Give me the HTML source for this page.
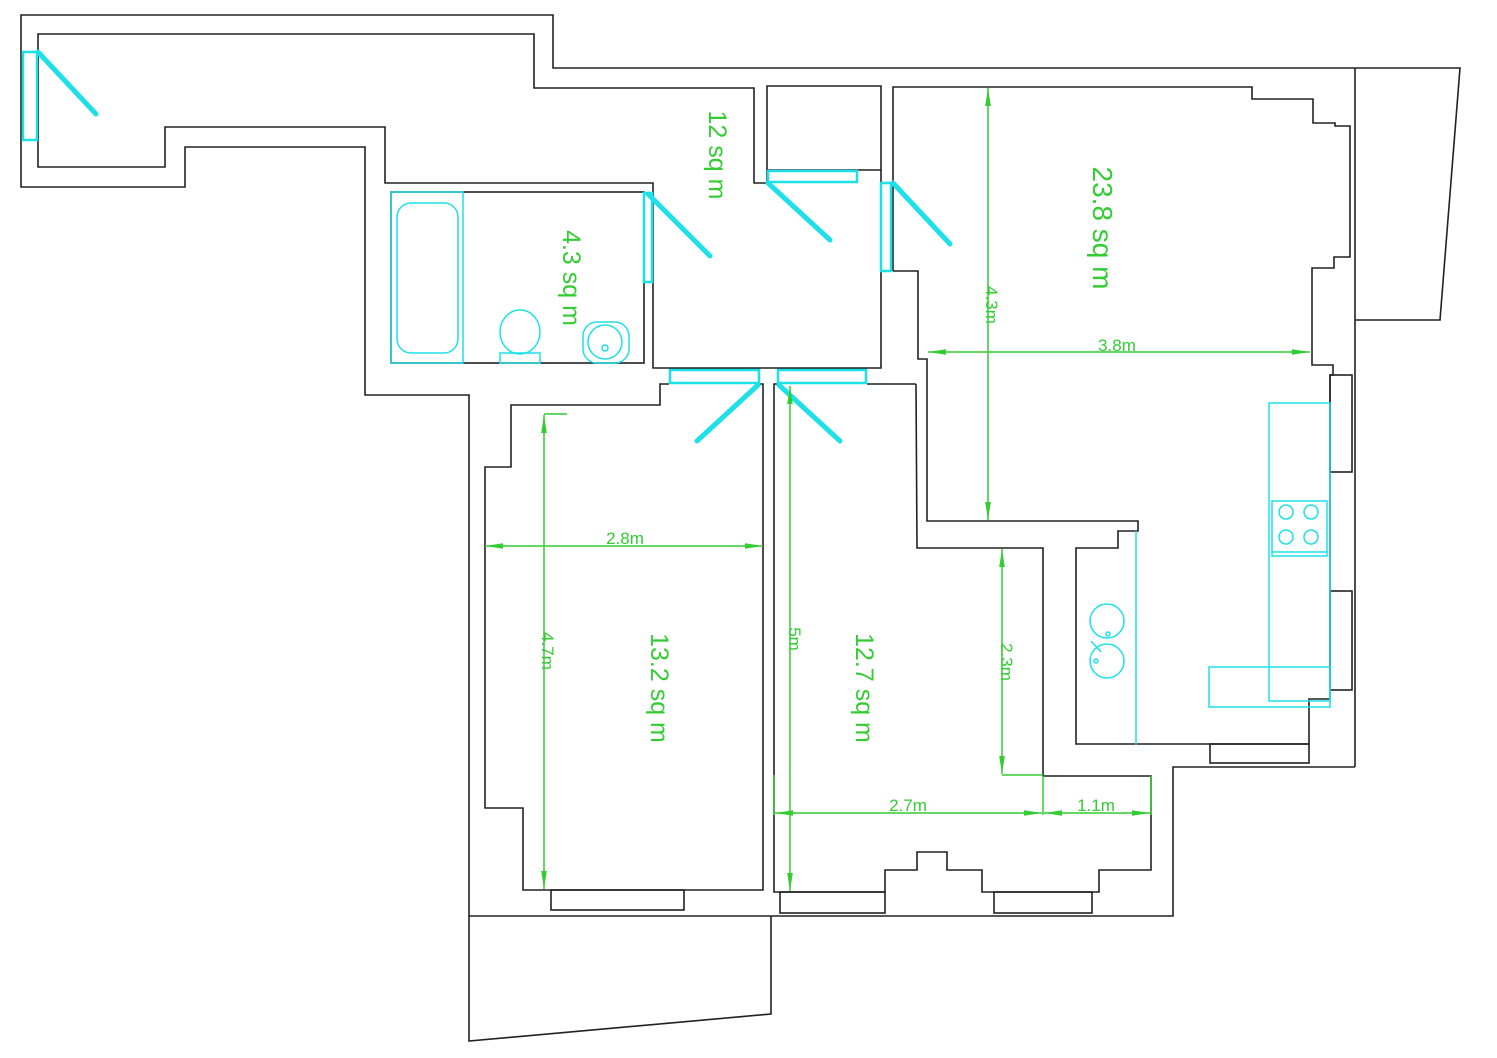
<!DOCTYPE html>
<html><head><meta charset="utf-8"><style>html,body{margin:0;padding:0;background:#fff}svg{display:block}</style></head><body>
<svg width="1497" height="1058" viewBox="0 0 1497 1058" xmlns="http://www.w3.org/2000/svg" font-family="Liberation Sans, sans-serif">
<defs>
<marker id="a" viewBox="0 0 10 10" refX="10" refY="5" markerWidth="18" markerHeight="7" markerUnits="userSpaceOnUse" preserveAspectRatio="none" orient="auto-start-reverse"><path d="M0,1 L10,5 L0,9 z" fill="#3c3"/></marker>
</defs>
<g fill="none" stroke="#222" stroke-width="1.6">
<polyline points="1355,68 553,68 553,15 21,15 21,187 185,187 185,147 365,147 365,395 469,395 469,916 1173,916 1173,767 1355,767"/>
<polyline points="38,140 38,34 534,34 534,88 754,88 754,183 767,183"/>
<polyline points="38,52 38,167 165,167 165,127 385,127 385,183 653,183 653,368 668,368"/>
<polyline points="1355,68 1460,68 1440,320 1355,320"/>
<line x1="1355" y1="68" x2="1355" y2="767"/>
<rect x="391" y="192" width="253" height="171"/>
<polyline points="767,183 767,86 881,86 881,170 858,170"/>
<line x1="767" y1="170" x2="858" y2="170"/>
<polyline points="881,170 881,368 867,368"/>
<line x1="760" y1="368" x2="777" y2="368"/>
<line x1="668" y1="368" x2="760" y2="368"/>
<line x1="777" y1="368" x2="867" y2="368"/>
<polyline points="893,271 893,87 1252,87 1252,99 1313,99 1313,123 1335,123 1335,126 1350,126 1350,257 1334,257 1334,268 1312,268 1312,365 1333,365 1333,375 1330,375 1330,699 1309,699 1309,744 1076,744 1076,548 1118,548 1118,531 1138,531 1138,521 927,521 927,359 918,359 918,271 893,271"/>
<rect x="1330" y="375" width="22" height="97"/>
<rect x="1330" y="591" width="22" height="99"/>
<rect x="1210" y="744" width="99" height="19"/>
<polyline points="916,384 917,548 1043,548 1043,776 1151,776 1151,870 1099,870 1099,892 982,892 982,870 947,870 947,852 917,852 917,870 885,870 885,892 774,892 774,384 777,384"/>
<line x1="867" y1="384" x2="916" y2="384"/>
<rect x="780" y="892" width="105" height="21"/>
<rect x="994" y="892" width="98" height="21"/>
<polyline points="669,384 660,384 660,405 511,405 511,467 485,467 485,808 523,808 523,890 763,890 763,384 760,384"/>
<rect x="551" y="890" width="133" height="20"/>
<polyline points="469,916 469,1041 771,1014 771,916"/>
<line x1="669" y1="369" x2="760" y2="369"/>
<line x1="777" y1="369" x2="867" y2="369"/>
</g>
<g fill="none" stroke="#1de0e8" stroke-width="1.5">
<rect x="23" y="52" width="14" height="88" stroke-width="2.5"/>
<rect x="644" y="193" width="8" height="89" stroke-width="2.5"/>
<rect x="768" y="171" width="89" height="11" stroke-width="2.5"/>
<rect x="881" y="183" width="10" height="88" stroke-width="2.5"/>
<rect x="670" y="370" width="89" height="13" stroke-width="2.5"/>
<rect x="778" y="370" width="88" height="13" stroke-width="2.5"/>
<rect x="391" y="192" width="72" height="171"/>
<rect x="397" y="203" width="61" height="150" rx="14"/>
<ellipse cx="520" cy="332" rx="20" ry="22"/>
<rect x="500" y="353" width="40" height="10"/>
<rect x="583" y="322" width="46" height="41" rx="14"/>
<circle cx="605" cy="342" r="17"/>
<circle cx="605" cy="348" r="3"/>
<rect x="1269" y="403" width="61" height="298"/>
<rect x="1272" y="501" width="55" height="55"/>
<line x1="1272" y1="552" x2="1327" y2="552"/>
<circle cx="1286" cy="512" r="7"/><circle cx="1311" cy="512" r="7"/>
<circle cx="1286" cy="537" r="7"/><circle cx="1311" cy="537" r="7"/>
<rect x="1209" y="667" width="121" height="40"/>
<line x1="1136" y1="531" x2="1136" y2="745"/>
<circle cx="1107" cy="621" r="17"/><circle cx="1107" cy="661" r="17"/>
<circle cx="1108" cy="634" r="2"/><circle cx="1096" cy="661" r="2"/>
<line x1="1091" y1="641" x2="1101" y2="652"/>
</g>
<g stroke="#1de0e8" stroke-width="5" stroke-linecap="round">
<line x1="38" y1="52" x2="96" y2="114"/>
<line x1="648" y1="194" x2="710" y2="256"/>
<line x1="768" y1="183" x2="830" y2="240"/>
<line x1="893" y1="183" x2="950" y2="244"/>
<line x1="758" y1="385" x2="697" y2="441"/>
<line x1="779" y1="385" x2="840" y2="441"/>
</g>
<g stroke="#3c3" stroke-width="1.5" fill="none">
<line x1="988" y1="88" x2="988" y2="520" marker-start="url(#a)" marker-end="url(#a)"/>
<line x1="928" y1="352" x2="1310" y2="352" marker-start="url(#a)" marker-end="url(#a)"/>
<line x1="485" y1="546" x2="763" y2="546" marker-start="url(#a)" marker-end="url(#a)"/>
<line x1="544" y1="415" x2="544" y2="889" marker-start="url(#a)" marker-end="url(#a)"/>
<line x1="544" y1="414" x2="567" y2="414"/>
<line x1="790" y1="386" x2="790" y2="891" marker-start="url(#a)" marker-end="url(#a)"/>
<line x1="1002" y1="549" x2="1002" y2="774" marker-start="url(#a)" marker-end="url(#a)"/>
<line x1="1002" y1="775" x2="1043" y2="775"/>
<line x1="774" y1="775" x2="774" y2="815"/>
<line x1="1043" y1="776" x2="1043" y2="815"/>
<line x1="775" y1="813" x2="1042" y2="813" marker-start="url(#a)" marker-end="url(#a)"/>
<line x1="1044" y1="813" x2="1150" y2="813" marker-start="url(#a)" marker-end="url(#a)"/>
<line x1="1151" y1="776" x2="1151" y2="815"/>
</g>
<g fill="#3c3" font-size="17">
<text x="1117" y="351" text-anchor="middle">3.8m</text>
<text x="625" y="544" text-anchor="middle">2.8m</text>
<text x="908" y="811" text-anchor="middle">2.7m</text>
<text x="1096" y="811" text-anchor="middle">1.1m</text>
<text transform="translate(986,305) rotate(90)" text-anchor="middle">4.3m</text>
<text transform="translate(542,651) rotate(90)" text-anchor="middle">4.7m</text>
<text transform="translate(789,639) rotate(90)" text-anchor="middle">5m</text>
<text transform="translate(1001,662) rotate(90)" text-anchor="middle">2.3m</text>
</g>
<g fill="#3c3" font-size="25">
<text transform="translate(709,155) rotate(90)" text-anchor="middle">12 sq m</text>
<text transform="translate(563,278) rotate(90)" text-anchor="middle">4.3 sq m</text>
<text transform="translate(1093,228) rotate(90)" text-anchor="middle" font-size="28">23.8 sq m</text>
<text transform="translate(651,688) rotate(90)" text-anchor="middle">13.2 sq m</text>
<text transform="translate(856,688) rotate(90)" text-anchor="middle">12.7 sq m</text>
</g>
</svg>
</body></html>
